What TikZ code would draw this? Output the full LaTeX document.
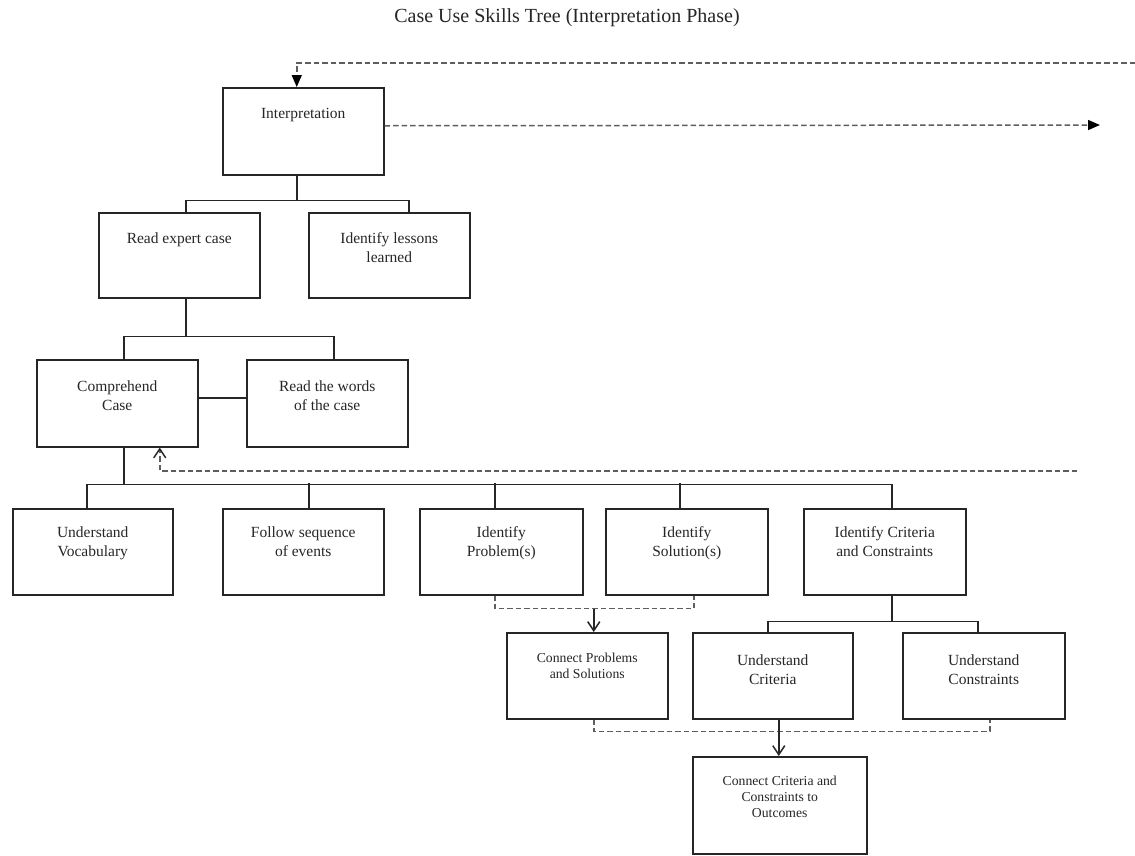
\documentclass[tikz,border=0pt]{standalone}
\usepackage{fontspec}
\setmainfont{Liberation Serif}
\usetikzlibrary{arrows.meta}
\definecolor{ink}{HTML}{262626}
\definecolor{dashgray}{HTML}{5E5E5E}
% box text: width, height, top padding, lines
\newcommand{\skilltxt}[4]{\parbox[c][#2pt][t]{#1pt}{\centering\vspace*{#3pt}\strut #4\par}}
\tikzset{
  skill/.style={draw=ink, line width=1.5pt, inner sep=0pt, anchor=north west,
    text=ink, font=\fontsize{15.5}{19}\selectfont},
  smallskill/.style={skill, font=\fontsize{13.7}{16}\selectfont},
  link/.style={draw=ink, line width=1.5pt},
  flow/.style={draw=dashgray, line width=1.5pt, dash pattern=on 5.5pt off 3pt},
  fulltip/.style={-{Triangle[length=12pt,width=10pt,color=black]}},
  opentip/.style={-{Straight Barb[length=9pt,width=12pt,color=ink]}}
}
\begin{document}
\begin{tikzpicture}[x=1pt,y=-1pt]
\fill[white] (0,0) rectangle (1135,855);
\useasboundingbox (0,0) rectangle (1135,855);

\node[anchor=base, font=\fontsize{20}{24}\selectfont, text=ink] (title) at (567,22)
  {Case Use Skills Tree (Interpretation Phase)};

% boxes
\node[skill] (interp)  at (222,87)  {\skilltxt{161}{87}{17}{Interpretation}};
\node[skill] (readexp) at (98,212)  {\skilltxt{161}{85}{17}{Read expert case}};
\node[skill] (lessons) at (308,212) {\skilltxt{161}{85}{17}{Identify lessons\\learned}};
\node[skill] (comp)    at (36,359)  {\skilltxt{161}{87}{18}{Comprehend\\Case}};
\node[skill] (words)   at (246,359) {\skilltxt{161}{87}{18}{Read the words\\of the case}};
\node[skill] (vocab)   at (12,508)  {\skilltxt{160}{86}{15}{Understand\\Vocabulary}};
\node[skill] (follow)  at (222,508) {\skilltxt{161}{86}{15}{Follow sequence\\of events}};
\node[skill] (prob)    at (419,508) {\skilltxt{163}{86}{15}{Identify\\Problem(s)}};
\node[skill] (sol)     at (605,508) {\skilltxt{162}{86}{15}{Identify\\Solution(s)}};
\node[skill] (crit)    at (803,508) {\skilltxt{162}{86}{15}{Identify Criteria\\and Constraints}};
\node[smallskill] (connps) at (506,632) {\skilltxt{161}{86}{19}{Connect Problems\\and Solutions}};
\node[skill] (ucrit)   at (692,632) {\skilltxt{160}{86}{19}{Understand\\Criteria}};
\node[skill] (ucons)   at (902,632) {\skilltxt{162}{86}{19}{Understand\\Constraints}};
\node[smallskill] (conncc) at (692,756) {\skilltxt{174}{97}{18}{Connect Criteria and\\Constraints to\\Outcomes}};

% tree links
\draw[link] ([xshift=-6.5pt]interp.south) -- ++(0,25) coordinate (j1);
\draw[link] ([xshift=6.5pt]readexp.north) |- (j1) -| ([xshift=19.5pt]lessons.north);
\draw[link] ([xshift=6.5pt]readexp.south) -- ++(0,38) coordinate (j2);
\draw[link] ([xshift=6.5pt]comp.north) |- (j2) -| ([xshift=6.5pt]words.north);
\draw[link] ([yshift=5.5pt]comp.east) -- ([yshift=5.5pt]words.west);
\draw[link] ([xshift=6.5pt]comp.south) -- ++(0,37) coordinate (j3);
\draw[link] ([xshift=-6pt]vocab.north) |- (j3) -| ([xshift=7pt]crit.north);
\draw[link] ([xshift=5.5pt]follow.north) -- ++(0,-25);
\draw[link] ([xshift=-6.5pt]prob.north) -- ++(0,-25);
\draw[link] ([xshift=-7pt]sol.north) -- ++(0,-25);
\draw[link] ([xshift=7pt]crit.south) -- ++(0,26) coordinate (j4);
\draw[link] ([xshift=-5pt]ucrit.north) |- (j4) -| ([xshift=-6pt]ucons.north);

% joins into combined skills
\draw[flow] ([xshift=-6.5pt]prob.south) -- ++(0,13) coordinate (j5) -| ([xshift=7pt]sol.south);
\coordinate (cpn) at ([xshift=6.5pt]connps.north);
\draw[link, opentip] (cpn |- j5) -- (cpn);
\draw[flow] ([xshift=6.5pt]connps.south) -- ++(0,12) coordinate (j6) -| ([xshift=6pt]ucons.south);
\coordinate (cuc) at ([xshift=6pt]ucrit.south);
\draw[link, opentip] (cuc) -- (cuc |- conncc.north);

% phase feedback and hand-off
\coordinate (feedin) at (1135,63);
\draw[flow, fulltip] (feedin) -| ([xshift=-6.5pt]interp.north);
\coordinate (handoff) at (1100,125);
\draw[flow, fulltip] ([yshift=5.5pt]interp.east) -- (handoff);
\coordinate (loopin) at (1077,471);
\draw[flow, opentip] (loopin) -| ([xshift=42.5pt]comp.south);
\end{tikzpicture}
\end{document}
